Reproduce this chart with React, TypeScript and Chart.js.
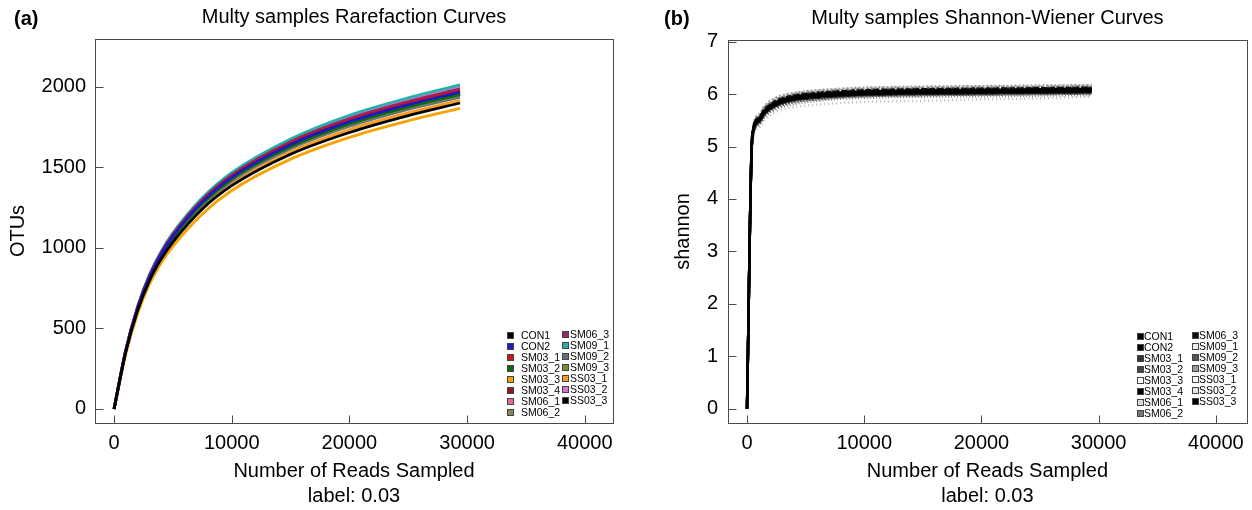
import React, { useEffect, useRef } from "react";
import { Chart, registerables } from "chart.js";

Chart.register(...registerables);

const FONT = "'Liberation Sans', Arial, Helvetica, sans-serif";

// ---------------- data ----------------
const sampleNames = [
  "CON1", "CON2", "SM03_1", "SM03_2", "SM03_3", "SM03_4", "SM06_1", "SM06_2",
  "SM06_3", "SM09_1", "SM09_2", "SM09_3", "SS03_1", "SS03_2", "SS03_3",
];

const rarefactionReads = [0, 1000, 2000, 3000, 4000, 5000, 7500, 10000, 15000, 20000, 25000, 29400];
const otuCON1 = [0, 355, 610, 795, 930, 1035, 1240, 1385, 1580, 1715, 1820, 1898];
const otuCON2 = [0, 362, 625, 818, 960, 1072, 1285, 1437, 1640, 1782, 1888, 1965];
const otuSM03_1 = [0, 364, 628, 822, 965, 1078, 1292, 1445, 1650, 1792, 1898, 1975];
const otuSM03_2 = [0, 360, 620, 812, 952, 1063, 1274, 1425, 1626, 1768, 1873, 1950];
const otuSM03_3 = [0, 340, 590, 772, 905, 1008, 1210, 1355, 1550, 1685, 1788, 1865];
const otuSM03_4 = [0, 361, 623, 815, 957, 1069, 1281, 1433, 1636, 1778, 1884, 1960];
const otuSM06_1 = [0, 363, 626, 820, 963, 1075, 1288, 1441, 1645, 1787, 1893, 1970];
const otuSM06_2 = [0, 359, 618, 809, 949, 1060, 1270, 1421, 1622, 1763, 1868, 1945];
const otuSM06_3 = [0, 366, 632, 826, 970, 1083, 1298, 1452, 1658, 1801, 1907, 1985];
const otuSM09_1 = [0, 368, 636, 832, 978, 1092, 1310, 1466, 1675, 1822, 1930, 2010];
const otuSM09_2 = [0, 358, 616, 806, 945, 1055, 1264, 1414, 1614, 1754, 1859, 1935];
const otuSM09_3 = [0, 361, 622, 813, 954, 1066, 1277, 1429, 1631, 1773, 1878, 1955];
const otuSS03_1 = [0, 352, 608, 794, 932, 1040, 1248, 1396, 1594, 1733, 1837, 1915];
const otuSS03_2 = [0, 367, 634, 829, 974, 1088, 1304, 1459, 1667, 1812, 1919, 1998];
const otuSS03_3 = [0, 360, 621, 811, 951, 1062, 1273, 1424, 1625, 1767, 1872, 1950];
const otuSeries = [
  otuCON1, otuCON2, otuSM03_1, otuSM03_2, otuSM03_3, otuSM03_4, otuSM06_1, otuSM06_2,
  otuSM06_3, otuSM09_1, otuSM09_2, otuSM09_3, otuSS03_1, otuSS03_2, otuSS03_3,
];

const shannonReads = [0, 450, 1000, 1500, 2500, 4000, 6000, 8000, 10000, 15000, 20000, 25000, 29400];
const shCON1 = [0, 5.2, 5.52, 5.68, 5.84, 5.94, 5.99, 6.02, 6.04, 6.06, 6.07, 6.08, 6.09];
const shCON2 = [0, 5.16, 5.48, 5.64, 5.8, 5.9, 5.95, 5.98, 6.0, 6.02, 6.03, 6.04, 6.05];
const shSM03_1 = [0, 5.22, 5.55, 5.71, 5.87, 5.97, 6.02, 6.05, 6.07, 6.09, 6.1, 6.11, 6.12];
const shSM03_2 = [0, 5.15, 5.47, 5.63, 5.79, 5.89, 5.94, 5.97, 5.99, 6.01, 6.02, 6.03, 6.04];
const shSM03_3 = [0, 5.24, 5.58, 5.75, 5.91, 6.01, 6.06, 6.09, 6.11, 6.13, 6.14, 6.15, 6.16];
const shSM03_4 = [0, 5.19, 5.51, 5.67, 5.83, 5.93, 5.98, 6.01, 6.03, 6.05, 6.06, 6.07, 6.08];
const shSM06_1 = [0, 5.06, 5.35, 5.5, 5.66, 5.75, 5.8, 5.83, 5.85, 5.87, 5.9, 5.92, 5.95];
const shSM06_2 = [0, 5.17, 5.49, 5.65, 5.81, 5.91, 5.96, 5.99, 6.01, 6.03, 6.04, 6.05, 6.06];
const shSM06_3 = [0, 5.2, 5.53, 5.69, 5.85, 5.95, 6.0, 6.03, 6.05, 6.07, 6.08, 6.09, 6.1];
const shSM09_1 = [0, 5.25, 5.6, 5.77, 5.93, 6.02, 6.07, 6.1, 6.12, 6.14, 6.15, 6.16, 6.17];
const shSM09_2 = [0, 5.14, 5.46, 5.62, 5.78, 5.88, 5.93, 5.96, 5.98, 6.0, 6.01, 6.02, 6.03];
const shSM09_3 = [0, 5.12, 5.43, 5.59, 5.75, 5.85, 5.9, 5.94, 5.96, 5.98, 5.99, 6.0, 6.01];
const shSS03_1 = [0, 5.1, 5.4, 5.56, 5.71, 5.81, 5.87, 5.91, 5.93, 5.95, 5.96, 5.97, 5.98];
const shSS03_2 = [0, 5.23, 5.56, 5.73, 5.89, 5.99, 6.04, 6.07, 6.09, 6.11, 6.12, 6.13, 6.14];
const shSS03_3 = [0, 5.18, 5.5, 5.66, 5.82, 5.92, 5.97, 6.0, 6.02, 6.04, 6.05, 6.06, 6.07];
const shannonSeries = [
  shCON1, shCON2, shSM03_1, shSM03_2, shSM03_3, shSM03_4, shSM06_1, shSM06_2,
  shSM06_3, shSM09_1, shSM09_2, shSM09_3, shSS03_1, shSS03_2, shSS03_3,
];

const readTicks = [0, 10000, 20000, 30000, 40000];
const otuTicks = [0, 500, 1000, 1500, 2000];
const shannonTicks = [0, 1, 2, 3, 4, 5, 6, 7];

// ---------------- styles ----------------
const colorsA = [
  "#000000", "#1a1ac8", "#cc1414", "#0d6b0d", "#f5a300", "#8c1c1c", "#e3699f", "#8a8452",
  "#8e2a6e", "#22b3a8", "#5f7282", "#748f2c", "#ff9a1a", "#d872d8", "#000000",
];
const colorsB = [
  "#000000", "#000000", "#111111", "#222222", "#aaaaaa", "#000000", "#bbbbbb", "#333333",
  "#000000", "#999999", "#222222", "#555555", "#777777", "#444444", "#000000",
];
const dashB = [
  [], [], [6, 2], [3, 1], [1, 2], [], [1, 3], [4, 1], [], [2, 2], [5, 1], [2, 1], [1, 2], [3, 2], [],
];
const swatchB = [
  "#000000", "#000000", "#333333", "#444444", "#ffffff", "#000000", "#d8d8d8", "#777777",
  "#111111", "#eeeeee", "#555555", "#999999", "#ffffff", "#e4e4e4", "#000000",
];

const framePlugin = {
  id: "frame",
  afterDraw(chart: any) {
    const { ctx, chartArea, scales } = chart;
    const { left, right, top, bottom } = chartArea;
    ctx.save();
    ctx.strokeStyle = "#4a4a4a";
    ctx.lineWidth = 1;
    const l = Math.round(left) + 0.5;
    const t = Math.round(top) + 0.5;
    const r = Math.round(right) + 0.5;
    const b = Math.round(bottom) + 0.5;
    ctx.strokeRect(l, t, r - l, b - t);
    ctx.beginPath();
    scales.x.ticks.forEach((tk: any) => {
      const px = Math.round(scales.x.getPixelForValue(tk.value)) + 0.5;
      ctx.moveTo(px, b);
      ctx.lineTo(px, b - 8);
    });
    scales.y.ticks.forEach((tk: any) => {
      const py = Math.round(scales.y.getPixelForValue(tk.value)) + 0.5;
      ctx.moveTo(l, py);
      ctx.lineTo(l + 8, py);
    });
    ctx.stroke();
    ctx.restore();
  },
};

function makeConfig(opts: {
  title: string;
  yTitle: string;
  xs: number[];
  series: number[][];
  colors: string[];
  dashes?: number[][];
  lineWidth: number;
  xMin: number;
  xMax: number;
  yMin: number;
  yMax: number;
  yTicks: number[];
  yAxisWidth: number;
  yTitlePad: number;
  yTickPad: number;
  padRight: number;
  titlePadTop: number;
}): any {
  const datasets = opts.series.map((vals, i) => ({
    label: sampleNames[i],
    data: opts.xs.map((x, j) => ({ x, y: vals[j] })),
    borderColor: opts.colors[i],
    backgroundColor: opts.colors[i],
    borderWidth: opts.lineWidth,
    borderDash: opts.dashes ? opts.dashes[i] : [],
    pointRadius: 0,
    fill: false,
    cubicInterpolationMode: "monotone",
  }));
  return {
    type: "line",
    data: { datasets },
    plugins: [framePlugin],
    options: {
      animation: false,
      responsive: false,
      events: [],
      layout: { padding: { left: 0, right: opts.padRight, top: 0, bottom: 0 } },
      plugins: {
        legend: { display: false },
        tooltip: { enabled: false },
        title: {
          display: true,
          text: opts.title,
          fullSize: false,
          color: "#000",
          font: { family: FONT, size: 20, weight: "normal", lineHeight: 1.2 },
          padding: { top: opts.titlePadTop, bottom: 10 },
        },
      },
      scales: {
        x: {
          type: "linear",
          min: opts.xMin,
          max: opts.xMax,
          afterBuildTicks: (s: any) => {
            s.ticks = readTicks.map((value) => ({ value }));
          },
          afterFit: (s: any) => {
            s.height = 87;
          },
          grid: { display: false, drawTicks: false },
          border: { display: false },
          ticks: {
            color: "#000",
            font: { family: FONT, size: 20 },
            padding: 8,
            maxRotation: 0,
            autoSkip: false,
            callback: (v: any) => String(v),
          },
          title: {
            display: true,
            text: ["Number of Reads Sampled", "label: 0.03"],
            color: "#000",
            font: { family: FONT, size: 20, lineHeight: 1.25 },
            padding: { top: 0, bottom: 1 },
          },
        },
        y: {
          type: "linear",
          min: opts.yMin,
          max: opts.yMax,
          afterBuildTicks: (s: any) => {
            s.ticks = opts.yTicks.map((value) => ({ value }));
          },
          afterFit: (s: any) => {
            s.width = opts.yAxisWidth;
          },
          grid: { display: false, drawTicks: false },
          border: { display: false },
          ticks: {
            color: "#000",
            font: { family: FONT, size: 20 },
            padding: opts.yTickPad,
            autoSkip: false,
            callback: (v: any) => String(v),
          },
          title: {
            display: true,
            text: opts.yTitle,
            color: "#000",
            font: { family: FONT, size: 20, lineHeight: 1.2 },
            padding: { top: opts.yTitlePad, bottom: 0 },
          },
        },
      },
    },
  };
}

function Panel(props: { left: number; width: number; config: () => any }) {
  const ref = useRef<HTMLCanvasElement>(null);
  useEffect(() => {
    const chart = new Chart(ref.current as HTMLCanvasElement, props.config());
    return () => chart.destroy();
  }, []);
  return (
    <canvas
      ref={ref}
      width={props.width}
      height={510}
      style={{ position: "absolute", left: props.left, top: 0, width: props.width, height: 510, display: "block" }}
    />
  );
}

function Legend(props: {
  swatches: string[];
  col1Swatch: number;
  col1Text: number;
  col2Swatch: number;
  col2Text: number;
  top: number;
}) {
  const items = sampleNames.map((name, i) => {
    const col = i < 8 ? 0 : 1;
    const row = col === 0 ? i : i - 8;
    const cy = props.top + row * 11.05 - (col === 1 ? 1 : 0);
    const sx = col === 0 ? props.col1Swatch : props.col2Swatch;
    const tx = col === 0 ? props.col1Text : props.col2Text;
    return (
      <React.Fragment key={name}>
        <div
          style={{
            position: "absolute",
            left: sx,
            top: cy - 3,
            width: 5,
            height: 5,
            background: props.swatches[i],
            border: "1px solid #444",
            boxSizing: "content-box",
          }}
        />
        <div
          style={{
            position: "absolute",
            left: tx,
            top: cy - 6.5,
            height: 13,
            lineHeight: "13px",
            fontFamily: FONT,
            fontSize: 10.5,
            color: "#000",
            whiteSpace: "nowrap",
          }}
        >
          {name}
        </div>
      </React.Fragment>
    );
  });
  return <>{items}</>;
}

export default function App() {
  const configA = () =>
    makeConfig({
      title: "Multy samples Rarefaction Curves",
      yTitle: "OTUs",
      xs: rarefactionReads,
      series: otuSeries,
      colors: colorsA,
      lineWidth: 2.8,
      xMin: -1620,
      xMax: 42400,
      yMin: -87,
      yMax: 2295,
      yTicks: otuTicks,
      yAxisWidth: 95,
      yTitlePad: 6,
      yTickPad: 9,
      padRight: 640 - 613,
      titlePadTop: 5,
    });
  const configB = () =>
    makeConfig({
      title: "Multy samples Shannon-Wiener Curves",
      yTitle: "shannon",
      xs: shannonReads,
      series: shannonSeries,
      colors: colorsB,
      dashes: dashB,
      lineWidth: 2.5,
      xMin: -1620,
      xMax: 42640,
      yMin: -0.27,
      yMax: 7.03,
      yTicks: shannonTicks,
      yAxisWidth: 102,
      yTitlePad: 45,
      yTickPad: 10,
      padRight: 4,
      titlePadTop: 6,
    });

  return (
    <div style={{ position: "absolute", left: 0, top: 0, width: 1252, height: 510, background: "#fff", overflow: "hidden" }}>
      <Panel left={0} width={640} config={configA} />
      <Panel left={626} width={626} config={configB} />
      <div style={{ position: "absolute", left: 14, top: 6, fontFamily: FONT, fontSize: 20, fontWeight: "bold", lineHeight: "24px", color: "#000" }}>
        (a)
      </div>
      <div style={{ position: "absolute", left: 664, top: 6, fontFamily: FONT, fontSize: 20, fontWeight: "bold", lineHeight: "24px", color: "#000" }}>
        (b)
      </div>
      <Legend swatches={colorsA} col1Swatch={507} col1Text={521} col2Swatch={562} col2Text={570} top={335} />
      <Legend swatches={swatchB} col1Swatch={1137} col1Text={1144} col2Swatch={1192} col2Text={1199} top={336} />
    </div>
  );
}
